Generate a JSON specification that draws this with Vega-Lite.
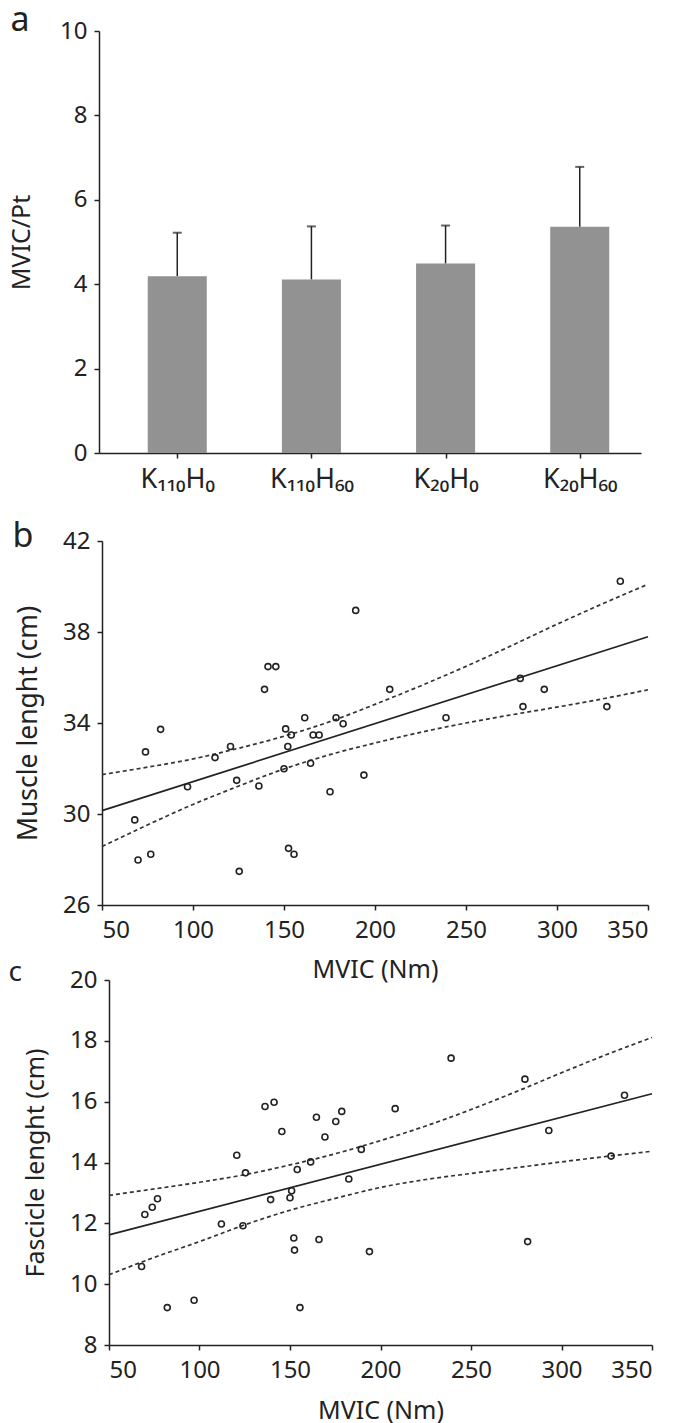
{
  "$schema": "https://vega.github.io/schema/vega-lite/v6.json",
  "background": "white",
  "padding": {"left": 8, "top": 4, "right": 10, "bottom": 4},
  "bounds": "flush",
  "spacing": 75,
  "config": {
    "font": "Noto Sans",
    "view": {"stroke": null},
    "axis": {
      "grid": false,
      "domainColor": "#222222",
      "tickColor": "#222222",
      "labelColor": "#222222",
      "titleColor": "#222222",
      "labelFontSize": 24,
      "titleFontSize": 25,
      "titleFontWeight": "normal",
      "tickSize": 5,
      "domainWidth": 1.5,
      "tickWidth": 1.5,
      "labelPadding": 7
    },
    "title": {"fontWeight": "normal", "anchor": "start", "frame": "bounds", "baseline": "alphabetic", "color": "#222222"}
  },
  "datasets": {
    "subjects": [
      {"mvic": 68.0, "muscle": 29.74, "fascicle": 10.58},
      {"mvic": 69.8, "muscle": 27.98, "fascicle": 12.29},
      {"mvic": 73.9, "muscle": 32.73, "fascicle": 12.53},
      {"mvic": 76.8, "muscle": 28.23, "fascicle": 12.81},
      {"mvic": 82.2, "muscle": 33.72, "fascicle": 9.23},
      {"mvic": 97.0, "muscle": 31.2, "fascicle": 9.47},
      {"mvic": 112.1, "muscle": 32.48, "fascicle": 11.98},
      {"mvic": 120.6, "muscle": 32.97, "fascicle": 14.24},
      {"mvic": 124.0, "muscle": 31.48, "fascicle": 11.92},
      {"mvic": 125.4, "muscle": 27.48, "fascicle": 13.66},
      {"mvic": 136.2, "muscle": 31.23, "fascicle": 15.84},
      {"mvic": 139.3, "muscle": 35.48, "fascicle": 12.78},
      {"mvic": 141.2, "muscle": 36.48, "fascicle": 15.98},
      {"mvic": 145.5, "muscle": 36.48, "fascicle": 15.02},
      {"mvic": 150.0, "muscle": 31.99, "fascicle": 12.84},
      {"mvic": 150.9, "muscle": 33.74, "fascicle": 13.07},
      {"mvic": 152.1, "muscle": 32.97, "fascicle": 11.52},
      {"mvic": 152.5, "muscle": 28.49, "fascicle": 11.12},
      {"mvic": 154.0, "muscle": 33.47, "fascicle": 13.77},
      {"mvic": 155.5, "muscle": 28.23, "fascicle": 9.23},
      {"mvic": 161.4, "muscle": 34.23, "fascicle": 14.02},
      {"mvic": 164.6, "muscle": 32.23, "fascicle": 15.49},
      {"mvic": 166.0, "muscle": 33.47, "fascicle": 11.47},
      {"mvic": 169.3, "muscle": 33.47, "fascicle": 14.84},
      {"mvic": 175.3, "muscle": 30.98, "fascicle": 15.35},
      {"mvic": 178.6, "muscle": 34.23, "fascicle": 15.68},
      {"mvic": 182.5, "muscle": 33.97, "fascicle": 13.46},
      {"mvic": 189.4, "muscle": 38.95, "fascicle": 14.43},
      {"mvic": 193.9, "muscle": 31.71, "fascicle": 11.07},
      {"mvic": 208.1, "muscle": 35.48, "fascicle": 15.77},
      {"mvic": 239.0, "muscle": 34.23, "fascicle": 17.43},
      {"mvic": 279.8, "muscle": 35.96, "fascicle": 16.74},
      {"mvic": 281.3, "muscle": 34.72, "fascicle": 11.4},
      {"mvic": 293.0, "muscle": 35.48, "fascicle": 15.05},
      {"mvic": 327.4, "muscle": 34.72, "fascicle": 14.21},
      {"mvic": 334.8, "muscle": 40.23, "fascicle": 16.21}
    ],
    "fitMuscle": [
      {"mvic": 50, "muscle": 30.15},
      {"mvic": 350, "muscle": 37.79}
    ],
    "bandMuscle": [
      {"side": "upper", "mvic": 50, "muscle": 31.73},
      {"side": "upper", "mvic": 75, "muscle": 32.06},
      {"side": "upper", "mvic": 100, "muscle": 32.42},
      {"side": "upper", "mvic": 122, "muscle": 32.83},
      {"side": "upper", "mvic": 150, "muscle": 33.42},
      {"side": "upper", "mvic": 177, "muscle": 34.11},
      {"side": "upper", "mvic": 200, "muscle": 34.82},
      {"side": "upper", "mvic": 225, "muscle": 35.63},
      {"side": "upper", "mvic": 250, "muscle": 36.49},
      {"side": "upper", "mvic": 275, "muscle": 37.4},
      {"side": "upper", "mvic": 300, "muscle": 38.34},
      {"side": "upper", "mvic": 325, "muscle": 39.24},
      {"side": "upper", "mvic": 350, "muscle": 40.1},
      {"side": "lower", "mvic": 50, "muscle": 28.57},
      {"side": "lower", "mvic": 75, "muscle": 29.52},
      {"side": "lower", "mvic": 100, "muscle": 30.42},
      {"side": "lower", "mvic": 122, "muscle": 31.13},
      {"side": "lower", "mvic": 150, "muscle": 31.98},
      {"side": "lower", "mvic": 177, "muscle": 32.65},
      {"side": "lower", "mvic": 200, "muscle": 33.12},
      {"side": "lower", "mvic": 225, "muscle": 33.59},
      {"side": "lower", "mvic": 250, "muscle": 34.0},
      {"side": "lower", "mvic": 275, "muscle": 34.36},
      {"side": "lower", "mvic": 300, "muscle": 34.7},
      {"side": "lower", "mvic": 325, "muscle": 35.06},
      {"side": "lower", "mvic": 350, "muscle": 35.46}
    ],
    "fitFascicle": [
      {"mvic": 50, "fascicle": 11.62},
      {"mvic": 350, "fascicle": 16.26}
    ],
    "bandFascicle": [
      {"side": "upper", "mvic": 50, "fascicle": 12.92},
      {"side": "upper", "mvic": 75, "fascicle": 13.13},
      {"side": "upper", "mvic": 100, "fascicle": 13.35},
      {"side": "upper", "mvic": 125, "fascicle": 13.6},
      {"side": "upper", "mvic": 150, "fascicle": 13.92},
      {"side": "upper", "mvic": 177, "fascicle": 14.32},
      {"side": "upper", "mvic": 200, "fascicle": 14.72},
      {"side": "upper", "mvic": 225, "fascicle": 15.2},
      {"side": "upper", "mvic": 250, "fascicle": 15.74},
      {"side": "upper", "mvic": 275, "fascicle": 16.33},
      {"side": "upper", "mvic": 300, "fascicle": 16.95},
      {"side": "upper", "mvic": 325, "fascicle": 17.55},
      {"side": "upper", "mvic": 350, "fascicle": 18.11},
      {"side": "lower", "mvic": 50, "fascicle": 10.31},
      {"side": "lower", "mvic": 75, "fascicle": 10.88},
      {"side": "lower", "mvic": 100, "fascicle": 11.4},
      {"side": "lower", "mvic": 125, "fascicle": 11.95},
      {"side": "lower", "mvic": 150, "fascicle": 12.43},
      {"side": "lower", "mvic": 177, "fascicle": 12.85},
      {"side": "lower", "mvic": 200, "fascicle": 13.18},
      {"side": "lower", "mvic": 225, "fascicle": 13.44},
      {"side": "lower", "mvic": 250, "fascicle": 13.64},
      {"side": "lower", "mvic": 275, "fascicle": 13.83},
      {"side": "lower", "mvic": 300, "fascicle": 14.02},
      {"side": "lower", "mvic": 325, "fascicle": 14.2},
      {"side": "lower", "mvic": 350, "fascicle": 14.37}
    ]
  },
  "vconcat": [
    {
      "title": {"text": "a", "fontSize": 34, "offset": -19, "dx": 1},
      "width": 542,
      "height": 422,
      "data": {"values": [
        {"condition": "K₁₁₀H₀", "ratio": 4.19, "upper": 5.22},
        {"condition": "K₁₁₀H₆₀", "ratio": 4.11, "upper": 5.37},
        {"condition": "K₂₀H₀", "ratio": 4.49, "upper": 5.39},
        {"condition": "K₂₀H₆₀", "ratio": 5.36, "upper": 6.78}
      ]},
      "encoding": {
        "x": {"field": "condition", "type": "nominal", "sort": null,
              "scale": {"paddingInner": 0.56, "paddingOuter": 0.3},
              "axis": {"title": null, "labelAngle": 0, "labelPadding": 8, "labelFontSize": 27, "tickOffset": 8.5}}
      },
      "layer": [
        {
          "mark": {"type": "rule", "color": "#222222", "strokeWidth": 1.5, "xOffset": 8.5},
          "encoding": {
            "y": {"field": "ratio", "type": "quantitative", "scale": {"domain": [0, 10], "nice": false},
                  "axis": {"title": "MVIC/Pt", "values": [0, 2, 4, 6, 8, 10], "titlePadding": 25}},
            "y2": {"field": "upper"}
          }
        },
        {
          "mark": {"type": "bar", "color": "#929292", "xOffset": 8.5},
          "encoding": {
            "y": {"field": "ratio", "type": "quantitative",
                  "axis": {"title": "MVIC/Pt", "values": [0, 2, 4, 6, 8, 10], "titlePadding": 25}}
          }
        },
        {
          "mark": {"type": "tick", "color": "#222222", "thickness": 2, "size": 9, "xOffset": 8.5},
          "encoding": {
            "y": {"field": "upper", "type": "quantitative",
                  "axis": {"title": "MVIC/Pt", "values": [0, 2, 4, 6, 8, 10], "titlePadding": 25}}
          }
        }
      ]
    },
    {
      "title": {"text": "b", "fontSize": 34, "offset": -26, "dx": -3},
      "width": 549,
      "height": 377,
      "encoding": {
        "x": {"field": "mvic", "type": "quantitative",
              "scale": {"domain": [50, 350], "nice": false, "zero": false, "range": [3, 549]},
              "axis": {"title": "MVIC (Nm)", "values": [50, 100, 150, 200, 250, 300, 350], "labelPadding": 8, "titlePadding": 15}},
        "y": {"field": "muscle", "type": "quantitative",
              "scale": {"domain": [26, 42], "nice": false, "zero": false, "range": [377, 13]},
              "axis": {"title": "Muscle lenght (cm)", "titleFontSize": 26.5, "values": [26, 30, 34, 38, 42], "titlePadding": 20, "offset": -3}}
      },
      "layer": [
        {
          "data": {"name": "bandMuscle"},
          "mark": {"type": "line", "color": "#333333", "strokeWidth": 1.7, "strokeDash": [4, 3], "interpolate": "monotone"},
          "encoding": {"detail": {"field": "side"}}
        },
        {
          "data": {"name": "fitMuscle"},
          "mark": {"type": "line", "color": "#222222", "strokeWidth": 1.7}
        },
        {
          "data": {"name": "subjects"},
          "mark": {"type": "point", "shape": "circle", "filled": false, "size": 36, "color": "#222222", "strokeWidth": 1.6, "opacity": 1}
        }
      ]
    },
    {
      "title": {"text": "c", "fontSize": 28, "offset": -19, "dx": -15},
      "width": 553,
      "height": 365,
      "encoding": {
        "x": {"field": "mvic", "type": "quantitative",
              "scale": {"domain": [50, 350], "nice": false, "zero": false, "range": [10, 553]},
              "axis": {"title": "MVIC (Nm)", "values": [50, 100, 150, 200, 250, 300, 350], "labelPadding": 8, "titlePadding": 16}},
        "y": {"field": "fascicle", "type": "quantitative",
              "scale": {"domain": [8, 20], "nice": false, "zero": false},
              "axis": {"title": "Fascicle lenght (cm)", "values": [8, 10, 12, 14, 16, 18, 20], "titlePadding": 21, "offset": -10}}
      },
      "layer": [
        {
          "data": {"name": "bandFascicle"},
          "mark": {"type": "line", "color": "#333333", "strokeWidth": 1.7, "strokeDash": [4, 3], "interpolate": "monotone"},
          "encoding": {"detail": {"field": "side"}}
        },
        {
          "data": {"name": "fitFascicle"},
          "mark": {"type": "line", "color": "#222222", "strokeWidth": 1.7}
        },
        {
          "data": {"name": "subjects"},
          "mark": {"type": "point", "shape": "circle", "filled": false, "size": 36, "color": "#222222", "strokeWidth": 1.6, "opacity": 1}
        }
      ]
    }
  ]
}
